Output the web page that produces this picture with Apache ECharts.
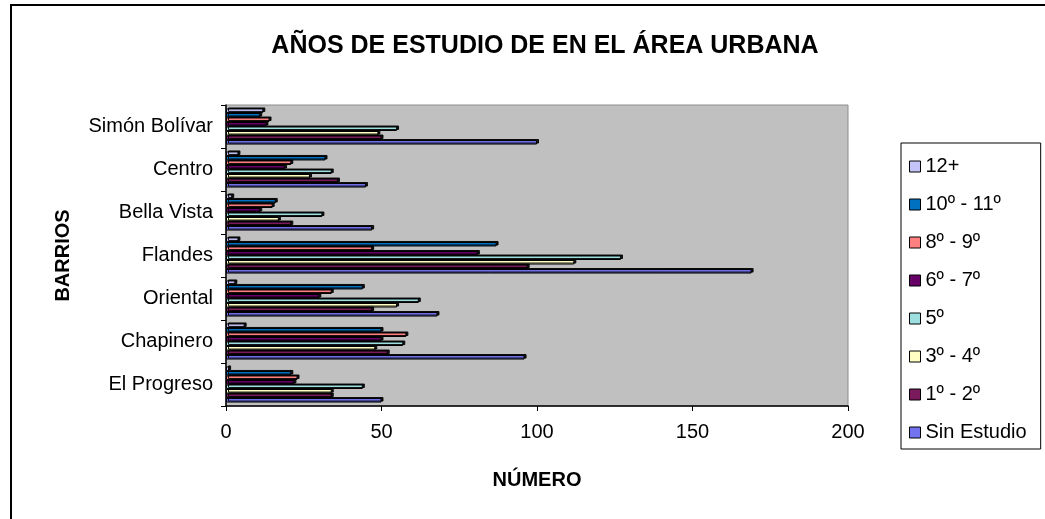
<!DOCTYPE html>
<html>
<head>
<meta charset="utf-8">
<script src="https://cdn.jsdelivr.net/npm/echarts@6/dist/echarts.min.js"></script>
<style>html,body{margin:0;padding:0;background:#fff}#c{width:1045px;height:519px}</style>
</head>
<body>
<div id="c"></div>
<script>
const categories = ['El Progreso', 'Chapinero', 'Oriental', 'Flandes', 'Bella Vista', 'Centro', 'Simón Bolívar'];
const seriesNames = ['12+', '10º - 11º', '8º - 9º', '6º - 7º', '5º', '3º - 4º', '1º - 2º', 'Sin Estudio'];
const grado12 = [1, 6, 3, 4, 2, 4, 12];
const grado10_11 = [21, 50, 44, 87, 16, 32, 11];
const grado8_9 = [23, 58, 34, 47, 15, 21, 14];
const grado6_7 = [22, 50, 30, 81, 11, 19, 13];
const grado5 = [44, 57, 62, 127, 31, 34, 55];
const grado3_4 = [34, 48, 55, 112, 17, 27, 49];
const grado1_2 = [34, 52, 47, 97, 21, 36, 50];
const sinEstudio = [50, 96, 68, 169, 47, 45, 100];
const xTicks = [0, 50, 100, 150, 200];
const colors = ['#c4c4f8', '#0070c0', '#ff8080', '#660066', '#9ee0e0', '#ffffc4', '#7a1a5c', '#7373f0'];
const values = [grado12, grado10_11, grado8_9, grado6_7, grado5, grado3_4, grado1_2, sinEstudio];

const chart = echarts.init(document.getElementById('c'));
const font = 'Liberation Sans, Arial, sans-serif';
chart.setOption({
  animation: false,
  textStyle: { fontFamily: font },
  title: {
    text: 'AÑOS DE ESTUDIO DE EN EL ÁREA URBANA',
    left: 540, top: 29, textAlign: 'center',
    textStyle: { fontFamily: font, fontWeight: 'bold', fontSize: 25, color: '#000' }
  },
  graphic: [{
    type: 'rect', shape: { x: 11, y: 5, width: 1100, height: 600 },
    style: { fill: 'none', stroke: '#000', lineWidth: 2 }, silent: true
  }],
  legend: {
    orient: 'vertical', left: 901, top: 143,
    data: seriesNames,
    icon: 'rect', itemWidth: 11, itemHeight: 11, itemGap: 15,
    padding: [12, 14, 5, 8],
    borderColor: '#000', borderWidth: 1,
    textStyle: { fontFamily: font, fontSize: 20, color: '#000', lineHeight: 23 },
    itemStyle: { borderColor: '#000', borderWidth: 1 }
  },
  grid: {
    left: 226, right: 197, top: 105, bottom: 113,
    show: true, backgroundColor: '#c0c0c0', borderColor: '#8c8c8c', borderWidth: 1
  },
  xAxis: {
    type: 'value', min: 0, max: 200, interval: 50,
    name: 'NÚMERO', nameLocation: 'middle', nameGap: 64,
    nameTextStyle: { fontFamily: font, fontWeight: 'bold', fontSize: 20, color: '#000' },
    axisLine: { show: true, lineStyle: { color: '#000', width: 1.5 } },
    axisTick: { show: true, length: 5, lineStyle: { color: '#000' } },
    axisLabel: { fontSize: 20, color: '#000', margin: 16, fontFamily: font },
    splitLine: { show: false }
  },
  yAxis: {
    type: 'category', data: categories,
    name: 'BARRIOS', nameLocation: 'middle', nameGap: 153, nameRotate: 90,
    nameTextStyle: { fontFamily: font, fontWeight: 'bold', fontSize: 20, color: '#000' },
    axisLine: { show: true, lineStyle: { color: '#000', width: 1.5 } },
    axisTick: { show: true, length: 5, lineStyle: { color: '#000' } },
    axisLabel: { fontSize: 20, color: '#000', margin: 13, fontFamily: font }
  },
  series: seriesNames.map((n, i) => ({
    name: n, type: 'bar', data: values[i],
    barGap: '0%', barCategoryGap: '16%',
    itemStyle: { color: colors[i], borderColor: '#000', borderWidth: 1,
      shadowColor: 'rgba(0,0,0,0.9)', shadowOffsetX: 2, shadowOffsetY: -1, shadowBlur: 0 }
  }))
});
</script>
</body>
</html>
